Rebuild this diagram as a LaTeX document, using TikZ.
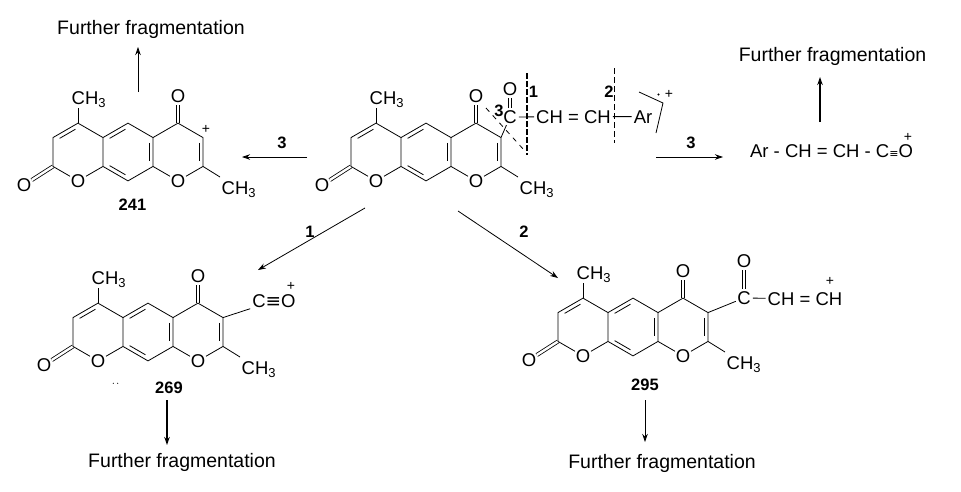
\documentclass[tikz,border=0pt]{standalone}
\usepackage{fontspec}
\setmainfont{Liberation Sans}
\newfontfamily\dvfont{DejaVu Sans}
\usepackage{tikz}
\usetikzlibrary{arrows.meta,calc,positioning}
\newcommand{\lblfont}{\fontsize{18.5}{20}\selectfont}
\tikzstyle{bond} = [line width=0.8pt]
\tikzstyle{dbond} = [line width=0.8pt, double, double distance=2.4pt]
\tikzstyle{inbond} = [line width=0.8pt, shorten <=3pt, shorten >=3pt]
\tikzstyle{atom} = [circle, inner sep=-0.5pt, font=\lblfont]
\tikzstyle{methyl} = [inner sep=0pt, anchor=base west, font=\lblfont]
\tikzstyle{lbl} = [inner sep=2pt, anchor=base, font=\lblfont]
\tikzstyle{num} = [inner sep=0pt, anchor=base, font=\fontsize{16.5}{18}\selectfont\bfseries]
\tikzstyle{chg} = [inner sep=0pt, font=\fontsize{14}{14}\selectfont]
\tikzstyle{further} = [inner sep=0pt, anchor=base, font=\fontsize{19.5}{21}\selectfont]
\tikzstyle{arrow} = [line width=0.8pt, -{Stealth[length=8pt,width=5.5pt]}]
\tikzstyle{cutline} = [line width=0.8pt, dash pattern=on 6pt off 3pt]
\tikzstyle{cutbold} = [line width=1.8pt, dash pattern=on 6pt off 2pt]
\spaceskip=7.5pt\relax
\newcommand{\chromone}[1]{%
  \coordinate (#1lc) at (0,0);
  \coordinate (#1mc) at (50,0);
  \coordinate (#1rc) at (100,0);
  \coordinate (#1l1) at (0,-28.87);
  \coordinate (#1l2) at (-25,-14.43);
  \coordinate (#1l3) at (-25,14.43);
  \coordinate (#1l5) at (25,14.43);
  \coordinate (#1l6) at (25,-14.43);
  \coordinate (#1m1) at (50,-28.87);
  \coordinate (#1m2) at (75,-14.43);
  \coordinate (#1m3) at (75,14.43);
  \coordinate (#1m4) at (50,28.87);
  \coordinate (#1r1) at (100,-28.87);
  \coordinate (#1r2) at (125,-14.43);
  \coordinate (#1r3) at (125,14.43);
  \coordinate (#1t1) at (0,-44);
  \coordinate (#1t2) at (142,25);
  \node[atom] (#1o1) at (0,28.87) {O};
  \node[atom] (#1o2) at (100,28.87) {O};
  \node[atom] (#1o3) at (-54,33) {O};
  \node[atom] (#1o4) at (100,-56) {O};
  \node[methyl] (#1me1) at (-6.5,-47.5) {CH\textsubscript{3}};
  \node[methyl] (#1me2) at (143.5,42.5) {CH\textsubscript{3}};
  \draw[dbond] (#1l3) -- (#1o3);
  \draw[dbond] (#1r1) -- (#1o4);
  \draw[bond] (#1l6) -- (#1l1) -- (#1l2) -- (#1l3) -- (#1o1) -- (#1l5) -- (#1l6) -- (#1m1) -- (#1m2) -- (#1m3) -- (#1m4) -- (#1l5);
  \draw[bond] (#1m2) -- (#1r1) -- (#1r2) -- (#1r3) -- (#1o2) -- (#1m3);
  \draw[bond] (#1l1) -- (#1t1);
  \draw[bond] (#1r3) -- (#1t2);
  \draw[inbond] ($(#1lc)!.84!(#1l1)$) -- ($(#1lc)!.84!(#1l2)$);
  \draw[inbond] ($(#1mc)!.84!(#1l6)$) -- ($(#1mc)!.84!(#1m1)$);
  \draw[inbond] ($(#1mc)!.84!(#1m2)$) -- ($(#1mc)!.84!(#1m3)$);
  \draw[inbond] ($(#1mc)!.84!(#1m4)$) -- ($(#1mc)!.84!(#1l5)$);
  \draw[inbond] ($(#1rc)!.84!(#1r2)$) -- ($(#1rc)!.84!(#1r3)$);
}

\begin{document}
\begin{tikzpicture}[x=1pt,y=-1pt]
\useasboundingbox (0,0) rectangle (961,491);

\begin{scope}[shift={(376,152)}]
\chromone{c}
\end{scope}
\node[atom] (cac) at (510,117) {C};
\node[atom] (cao) at (510,89) {O};
\node[lbl] (cch) at (573.5,123) {CH = CH};
\node[lbl] (car) at (643,123) {Ar};
\draw[dbond] (cac) -- (cao);
\draw[bond] (cr2) -- (cac);
\draw[bond] (cac) -- (cch);
\draw[bond] (cch) -- (car);
\coordinate (k1a) at (527,73);
\coordinate (k1b) at (527,155);
\coordinate (k2a) at (614,68);
\coordinate (k2b) at (614,143);
\coordinate (k3a) at (486,108);
\coordinate (k3b) at (524,150);
\draw[cutbold] (k1a) -- (k1b);
\draw[cutline] (k2a) -- (k2b);
\draw[cutline, dash pattern=on 5pt off 5pt] (k3a) -- (k3b);
\node[num] (k1) at (533.5,97) {1};
\node[num] (k2) at (609,97) {2};
\node[num] (k3) at (499,116.5) {3};
\coordinate (rc1) at (639,92);
\coordinate (rc2) at (663,103);
\coordinate (rc3) at (656,133);
\draw[bond] (rc1) -- (rc2) -- (rc3);
\fill (658.5,94.5) circle (1.1pt);
\node[chg] (rcp) at (669,94) {+};

\begin{scope}[shift={(78,152)}]
\chromone{a}
\end{scope}
\node[chg] (ap) at (206,129) {+};
\node[num] (an) at (132.5,210) {241};

\begin{scope}[shift={(98,332)}]
\chromone{b}
\end{scope}
\node[lbl] (bco) at (274,307.3) {C{\dvfont ≡}O};
\draw[bond] (br2) -- (bco);
\node[chg] (bp) at (291,286.5) {+};
\node[num] (bn) at (169,393.5) {269};
\fill (113.3,383.3) circle (0.6pt);
\fill (117.7,383.3) circle (0.6pt);

\begin{scope}[shift={(583,327)}]
\chromone{d}
\end{scope}
\node[atom] (dac) at (744,298) {C};
\node[atom] (dao) at (744,261) {O};
\node[lbl] (dch) at (805,305) {CH = CH};
\draw[dbond] (dac) -- (dao);
\draw[bond] (dr2) -- (dac);
\draw[bond] (dac) -- (dch);
\node[chg] (dp) at (830,281) {+};
\node[num] (dn) at (645,390) {295};

\node[lbl, inner sep=0pt] (ar) at (831.5,157) {Ar - CH = CH - C{\dvfont\fontsize{11}{11}\selectfont ≡}O};
\node[chg] (arp) at (908,137.5) {+};

\node[further] (f1) at (151,34) {Further fragmentation};
\node[further] (f2) at (832.5,61.5) {Further fragmentation};
\node[further] (f3) at (182,467) {Further fragmentation};
\node[further] (f4) at (662,468) {Further fragmentation};

\coordinate (s1) at (365,208);
\coordinate (e1) at (258,270);
\coordinate (s2) at (458,211);
\coordinate (e2) at (558,278);
\coordinate (s3) at (307,157);
\coordinate (e3) at (242,157);
\coordinate (s4) at (656,157);
\coordinate (e4) at (723,157);
\coordinate (s5) at (138,92);
\coordinate (e5) at (138,47);
\coordinate (s6) at (820,122);
\coordinate (e6) at (820,77);
\coordinate (s7) at (167,400);
\coordinate (e7) at (167,445);
\coordinate (s8) at (645,400);
\coordinate (e8) at (645,442);
\draw[arrow] (s1) -- (e1);
\draw[arrow] (s2) -- (e2);
\draw[arrow] (s3) -- (e3);
\draw[arrow] (s4) -- (e4);
\draw[arrow] (s5) -- (e5);
\draw[arrow, line width=1.6pt] (s6) -- (e6);
\draw[arrow, line width=1.6pt] (s7) -- (e7);
\draw[arrow] (s8) -- (e8);
\node[num] (p1) at (310,237) {1};
\node[num] (p2) at (524,237) {2};
\node[num] (p3) at (282,148) {3};
\node[num] (p4) at (691,148) {3};
\end{tikzpicture}
\end{document}
